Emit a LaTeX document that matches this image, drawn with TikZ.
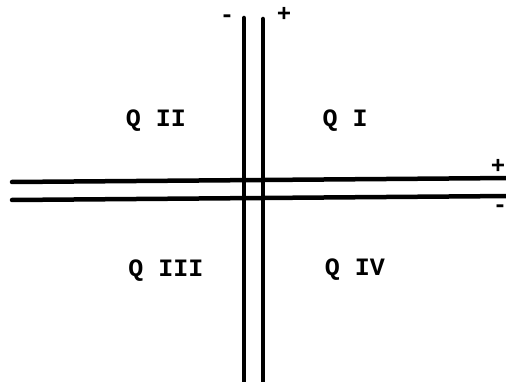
\documentclass[tikz,border=0pt]{standalone}
\usepackage{fontspec}
\setmonofont{Liberation Mono}
\begin{document}
\begin{tikzpicture}[x=1pt,y=1pt,
  axis/.style={line width=4.5pt,line cap=round},
  quad/.style={font=\ttfamily\bfseries\fontsize{25}{25}\selectfont,inner sep=0pt},
  sign/.style={font=\ttfamily\bfseries\fontsize{24}{24}\selectfont,inner sep=0pt}]
\useasboundingbox (0,0) rectangle (506,382);
% vertical axis ends
\coordinate (vlt) at (244,364);
\coordinate (vlb) at (244,-5);
\coordinate (vrt) at (263,363);
\coordinate (vrb) at (263,-5);
% horizontal axis ends
\coordinate (htl) at (12,200);
\coordinate (htr) at (512,204);
\coordinate (hbl) at (12,182);
\coordinate (hbr) at (512,186);
\draw[axis] (vlt) -- (vlb);
\draw[axis] (vrt) -- (vrb);
\draw[axis] (htl) -- (htr);
\draw[axis] (hbl) -- (hbr);
% signs
\node[sign] (vminus) at (227,363) {-};
\node[sign] (vplus) at (284,368) {+};
\node[sign] (hplus) at (498,216) {+};
\node[sign] (hminus) at (500,173) {-};
% quadrant labels
\node[quad] (q2) at (156,261) {Q II};
\node[quad] (q1) at (345,261) {Q I};
\node[quad] (q3) at (166,111) {Q III};
\node[quad] (q4) at (355,112) {Q IV};
\end{tikzpicture}
\end{document}
